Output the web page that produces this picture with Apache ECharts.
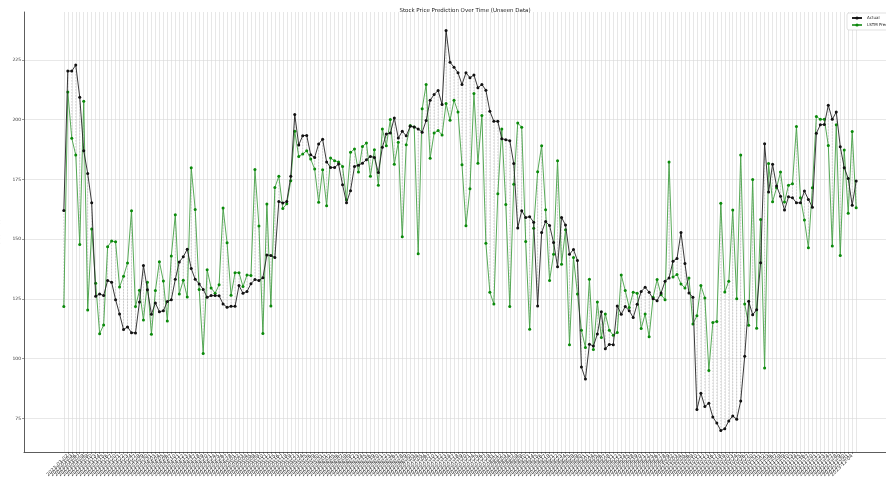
<!DOCTYPE html>
<html>
<head>
<meta charset="utf-8">
<script src="https://cdn.jsdelivr.net/npm/echarts@6/dist/echarts.min.js"></script>
<style>
  html, body { margin: 0; padding: 0; background: #fff; }
  #chart { width: 886px; height: 482px; }
</style>
</head>
<body>
<div id="chart"></div>
<script>
// actual closing prices
var actual = [
  162.0, 220.3, 220.3, 222.8, 209.4, 187.0, 177.5, 165.2, 126.1, 127.1,
  126.4, 132.7, 132.0, 124.7, 118.7, 112.2, 113.3, 110.9, 110.8, 123.7,
  139.0, 128.9, 118.6, 123.3, 119.6, 120.1, 123.9, 124.7, 133.2, 140.5,
  142.6, 145.8, 137.7, 133.2, 131.3, 129.0, 125.7, 126.4, 126.4, 126.3,
  122.9, 121.5, 121.9, 121.9, 130.6, 127.4, 128.1, 131.4, 133.1, 132.7,
  133.9, 143.4, 143.2, 142.3, 165.8, 165.1, 165.8, 176.3, 202.1, 189.4,
  193.3, 193.4, 185.3, 184.2, 189.8, 191.8, 182.3, 180.0, 180.0, 181.4,
  172.8, 165.2, 170.3, 180.4, 180.9, 181.8, 183.2, 184.6, 184.2, 177.9,
  188.4, 194.0, 194.4, 200.7, 192.3, 195.1, 193.2, 197.2, 196.9, 196.1,
  194.7, 199.6, 208.1, 210.5, 212.2, 206.3, 237.3, 224.0, 221.9, 219.6,
  214.7, 219.6, 217.5, 218.7, 213.3, 214.7, 212.3, 203.5, 199.3, 199.3,
  192.0, 191.6, 191.2, 181.6, 154.7, 161.9, 159.1, 159.4, 157.1, 122.1,
  152.8, 157.4, 155.7, 148.6, 138.5, 159.1, 155.9, 143.7, 145.7, 141.1,
  96.5, 91.5, 106.1, 105.3, 110.3, 119.7, 104.2, 106.0, 105.9, 122.1,
  118.6, 121.8, 120.1, 117.2, 122.8, 128.1, 129.9, 127.8, 125.1, 124.3,
  127.5, 132.4, 133.8, 140.8, 141.9, 152.8, 139.8, 127.5, 125.7, 78.8,
  85.6, 80.0, 81.4, 75.6, 73.1, 70.0, 70.7, 74.0, 76.1, 74.7,
  82.3, 101.0, 124.0, 118.4, 120.5, 140.1, 189.9, 169.7, 181.3, 172.2,
  168.0, 162.2, 167.7, 167.3, 165.2, 165.2, 170.1, 166.6, 163.4, 194.3,
  197.8, 198.0, 206.0, 200.1, 203.2, 188.7, 179.9, 175.4, 164.2, 174.3
];

// LSTM predicted prices
var predicted = [
  121.8, 211.5, 192.2, 185.2, 147.8, 207.7, 120.4, 154.3, 131.6, 110.5,
  114.1, 146.8, 149.2, 148.9, 130.0, 134.5, 140.0, 161.9, 121.8, 128.6,
  116.2, 132.0, 110.2, 128.5, 140.6, 132.5, 115.8, 143.0, 160.2, 127.1,
  132.8, 125.8, 179.9, 162.4, 129.0, 102.2, 137.2, 129.6, 127.4, 130.9,
  163.0, 148.5, 126.5, 136.0, 136.0, 130.2, 135.0, 134.8, 179.1, 155.5,
  110.6, 164.7, 122.1, 171.6, 176.3, 162.8, 164.8, 174.4, 195.1, 184.6,
  185.6, 187.0, 183.5, 179.3, 165.4, 179.0, 164.0, 183.9, 182.8, 182.3,
  180.4, 166.5, 186.3, 187.7, 178.1, 188.8, 190.2, 176.3, 187.4, 172.5,
  196.1, 189.1, 200.0, 181.3, 190.5, 151.0, 189.5, 197.5, 196.9, 143.9,
  204.5, 214.7, 183.8, 194.4, 195.4, 193.6, 206.7, 199.7, 208.1, 203.2,
  181.1, 155.6, 171.1, 210.9, 181.8, 201.7, 148.3, 127.8, 122.9, 169.0,
  196.1, 164.5, 121.8, 173.0, 198.6, 196.8, 149.0, 112.3, 154.6, 178.2,
  189.1, 162.3, 132.7, 143.7, 182.8, 139.5, 153.9, 105.9, 142.3, 127.1,
  111.9, 104.7, 133.2, 103.9, 123.7, 108.9, 118.7, 111.9, 109.8, 111.0,
  135.0, 128.5, 121.4, 127.8, 127.4, 112.6, 118.7, 109.2, 125.7, 133.1,
  126.8, 124.7, 182.3, 134.2, 135.2, 131.3, 129.6, 133.8, 114.5, 118.0,
  130.6, 125.4, 95.1, 115.2, 115.6, 165.0, 127.9, 132.4, 162.2, 125.1,
  185.2, 122.9, 114.0, 175.0, 112.8, 158.2, 96.1, 181.6, 165.6, 171.5,
  178.1, 165.5, 172.6, 173.2, 197.1, 167.3, 158.0, 146.4, 171.5, 201.3,
  200.1, 200.1, 189.2, 147.1, 197.8, 143.2, 187.3, 160.8, 195.0, 163.1
];

var yTicks = [75, 100, 125, 150, 175, 200, 225];

// trading-day labels (weekdays only)
var startDate = '2023-03-01';
var dates = [];
(function () {
    var d = new Date(startDate + 'T00:00:00Z');
    while (dates.length < actual.length) {
        var w = d.getUTCDay();
        if (w !== 0 && w !== 6) dates.push(d.toISOString().slice(0, 10));
        d.setUTCDate(d.getUTCDate() + 1);
    }
})();

var idx = dates.map(function (d, i) { return i; });

var chart = echarts.init(document.getElementById('chart'));

var option = {
    animation: false,
    backgroundColor: '#fff',
    textStyle: { fontFamily: 'DejaVu Sans' },
    title: {
        text: 'Stock Price Prediction Over Time (Unseen Data)',
        left: 460,
        textAlign: 'center',
        top: 3,
        textStyle: { fontSize: 5.5, fontWeight: 'normal', color: '#222' }
    },
    legend: {
        left: 847,
        top: 13,
        orient: 'vertical',
        itemWidth: 10,
        itemHeight: 4,
        itemGap: 3,
        padding: [3, 4],
        borderColor: '#ccc',
        borderWidth: 0.6,
        borderRadius: 2,
        backgroundColor: '#fff',
        textStyle: { fontSize: 4, color: '#222' },
        data: ['Actual', 'LSTM Predicted']
    },
    grid: { left: 24, top: 12, width: 872, bottom: 30, outerBoundsMode: 'none', containLabel: false },
    xAxis: {
        type: 'value',
        min: -10,
        max: 209,
        name: 'Date',
        nameLocation: 'middle',
        nameGap: 25,
        nameTextStyle: { fontSize: 4.5, color: '#222' },
        axisLine: { onZero: false, lineStyle: { color: '#333', width: 0.8 } },
        axisTick: { customValues: idx, length: 2, lineStyle: { color: '#333', width: 0.5 } },
        axisLabel: {
            customValues: idx,
            rotate: 45,
            fontSize: 5,
            color: '#333',
            margin: 3,
            formatter: function (v) { return dates[Math.round(v)] || ''; }
        },
        splitLine: { show: true, lineStyle: { color: '#d6d6d6', width: 0.6 } }
    },
    yAxis: {
        type: 'value',
        min: 61,
        max: 245,
        name: 'Stock Price',
        nameLocation: 'middle',
        nameGap: 13,
        nameTextStyle: { fontSize: 4.5, color: '#222' },
        axisLine: { show: true, onZero: false, lineStyle: { color: '#333', width: 0.8 } },
        axisTick: { show: true, customValues: yTicks, length: 2, lineStyle: { color: '#333', width: 0.5 } },
        axisLabel: { customValues: yTicks, fontSize: 4.5, color: '#333', margin: 3 },
        splitLine: { show: true, lineStyle: { color: '#e2e2e2', width: 0.8 } }
    },
    series: [
        {
            name: 'errors',
            type: 'custom',
            silent: true,
            z: 1,
            renderItem: function (params, api) {
                var a = api.coord([api.value(0), api.value(1)]);
                var b = api.coord([api.value(0), api.value(2)]);
                return {
                    type: 'line',
                    shape: { x1: a[0], y1: a[1], x2: b[0], y2: b[1] },
                    style: { stroke: '#aaa', lineWidth: 0.5, lineDash: [1.5, 1.5] }
                };
            },
            data: idx.map(function (i) { return [i, actual[i], predicted[i]]; })
        },
        {
            name: 'Actual',
            type: 'line',
            z: 3,
            symbol: 'circle',
            symbolSize: 3,
            itemStyle: { color: '#111' },
            lineStyle: { color: '#222', width: 0.9 },
            data: idx.map(function (i) { return [i, actual[i]]; })
        },
        {
            name: 'LSTM Predicted',
            type: 'line',
            z: 2,
            symbol: 'circle',
            symbolSize: 3,
            itemStyle: { color: '#0a8a0a' },
            lineStyle: { color: '#44a044', width: 0.9 },
            data: idx.map(function (i) { return [i, predicted[i]]; })
        }
    ]
};

chart.setOption(option);
</script>
</body>
</html>
